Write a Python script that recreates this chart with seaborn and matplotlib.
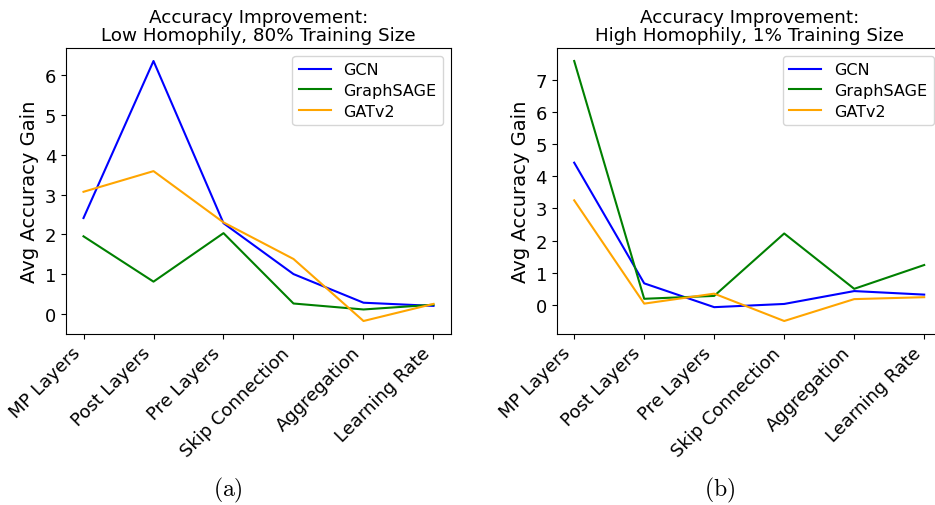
import matplotlib
matplotlib.use("Agg")
import matplotlib.pyplot as plt
from matplotlib.ticker import MultipleLocator
import seaborn as sns
import pandas as pd

categories = ["MP Layers", "Post Layers", "Pre Layers", "Skip Connection", "Aggregation", "Learning Rate"]
models = ["GCN", "GraphSAGE", "GATv2"]

low_gcn = [2.41, 6.36, 2.28, 1.00, 0.28, 0.20]
low_sage = [1.95, 0.81, 2.03, 0.26, 0.11, 0.23]
low_gat = [3.07, 3.59, 2.30, 1.38, -0.18, 0.25]

high_gcn = [4.42, 0.67, -0.07, 0.03, 0.43, 0.32]
high_sage = [7.58, 0.19, 0.28, 2.22, 0.50, 1.24]
high_gat = [3.25, 0.04, 0.35, -0.50, 0.18, 0.24]

titles = ["Accuracy Improvement:\nLow Homophily, 80% Training Size",
          "Accuracy Improvement:\nHigh Homophily, 1% Training Size"]
captions = ["(a)", "(b)"]
palette = {"GCN": "blue", "GraphSAGE": "green", "GATv2": "orange"}


def make_df(series):
    rows = []
    for m, vals in zip(models, series):
        for c, v in zip(categories, vals):
            rows.append({"Category": c, "Model": m, "Gain": v})
    return pd.DataFrame(rows)


dfs = [make_df([low_gcn, low_sage, low_gat]), make_df([high_gcn, high_sage, high_gat])]

plt.rcParams["font.family"] = ["DejaVu Sans"]
plt.rcParams["mathtext.fontset"] = "cm"

fig = plt.figure(figsize=(9.35, 5.06), dpi=100)
W, H = 935, 506
positions = [(66, 49, 451, 335), (556.7, 49, 941.7, 335)]

for i, (df, pos) in enumerate(zip(dfs, positions)):
    x0, y0, x1, y1 = pos
    ax = fig.add_axes([x0 / W, 1 - y1 / H, (x1 - x0) / W, (y1 - y0) / H])
    sns.lineplot(data=df, x="Category", y="Gain", hue="Model", palette=palette,
                 sort=False, linewidth=1.5, ax=ax)
    ax.set_title(titles[i], fontsize=13.2, linespacing=1.0)
    ax.set_xlabel("")
    ax.set_ylabel("Avg Accuracy Gain", fontsize=14)
    ax.tick_params(axis="both", labelsize=13)
    ax.yaxis.set_major_locator(MultipleLocator(1))
    ax.set_xticks(range(len(categories)))
    ax.set_xticklabels(categories, rotation=45, ha="right")
    ax.legend(loc="upper right", fontsize=11.5, labelspacing=0.35, handlelength=2.0)
    cx = 228 if i == 0 else 720
    fig.text(cx / W, 1 - 490 / H, r"$\mathrm{%s}$" % captions[i], fontsize=17,
             ha="center", va="center")

fig.savefig("out.png", dpi=100)
